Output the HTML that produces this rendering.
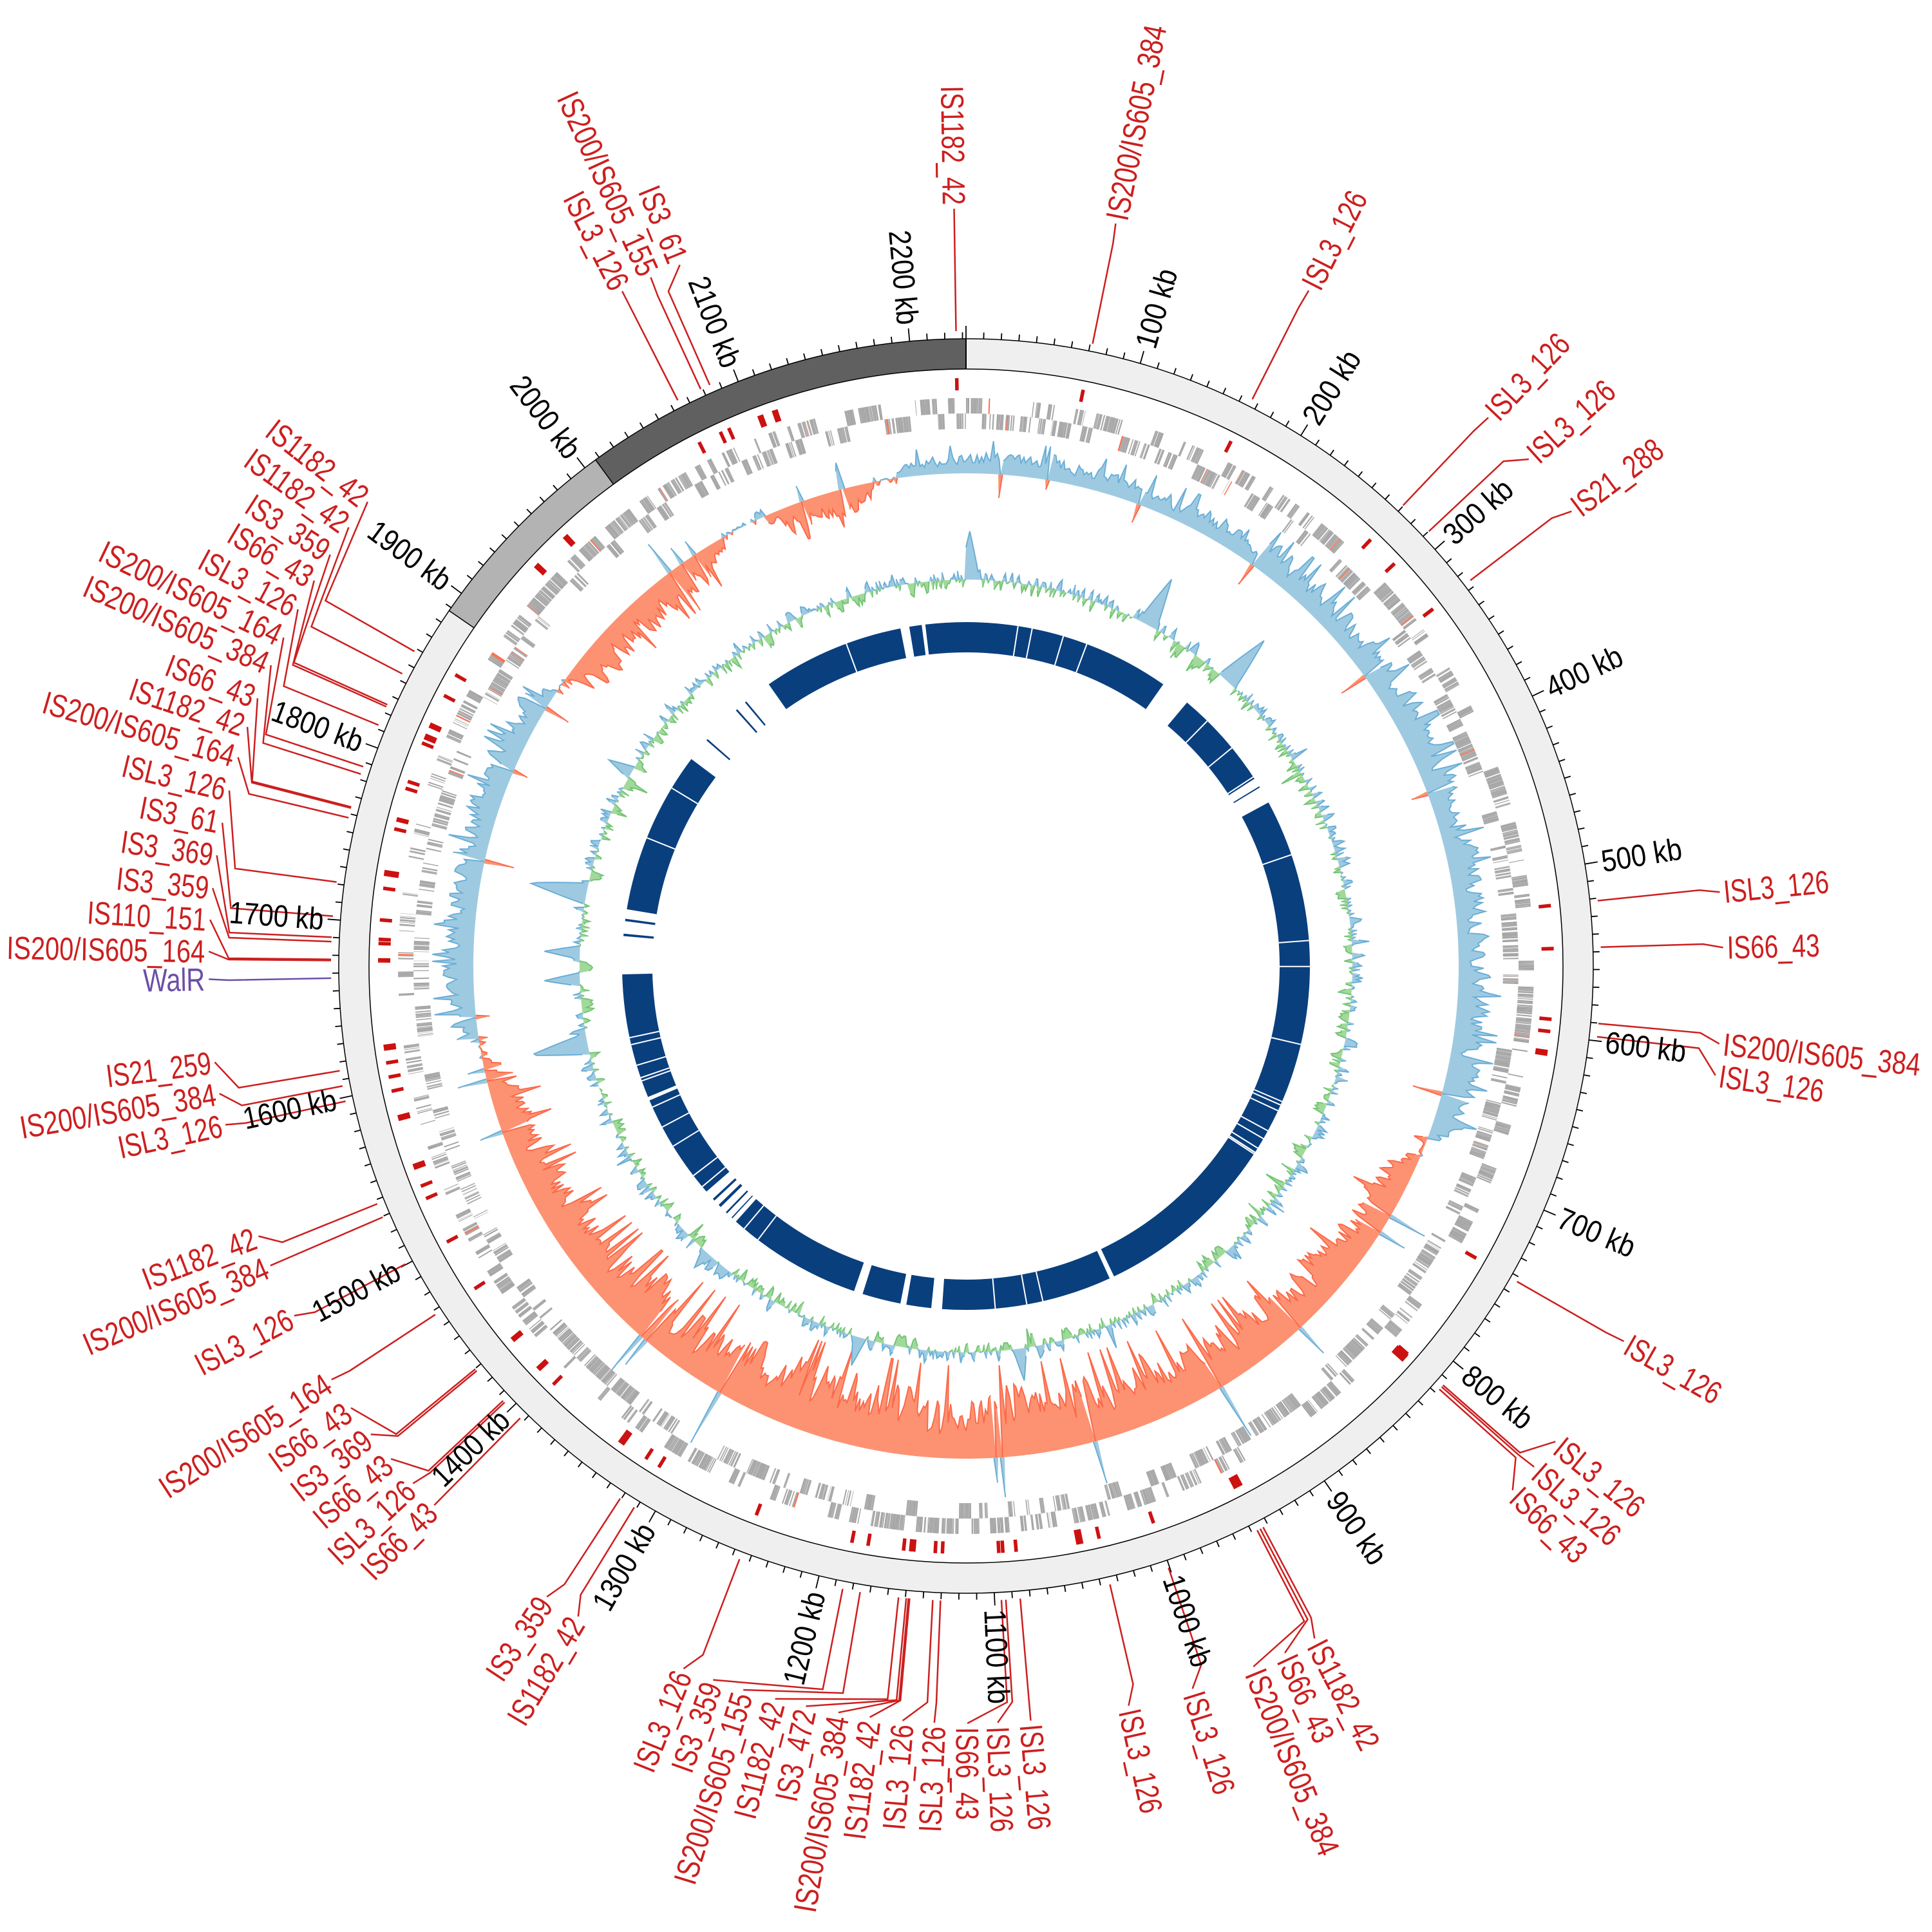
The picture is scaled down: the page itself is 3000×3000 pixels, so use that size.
<!DOCTYPE html>
<html><head><meta charset="utf-8">
<style>
html,body{margin:0;padding:0;background:#fff;}
svg{display:block;}
.t{font-family:"Liberation Sans Narrow","Liberation Sans",sans-serif;font-size:50px;fill:#cc1f1f;}
.k{font-family:"Liberation Sans Narrow","Liberation Sans",sans-serif;font-size:48px;fill:#000;}
.e{text-anchor:end;}
.w{fill:#6a4fa8;}
</style></head>
<body>
<svg id="s" width="3000" height="3000" viewBox="0 0 3000 3000" xmlns="http://www.w3.org/2000/svg">
<rect width="3000" height="3000" fill="#fff"/>
<g transform="translate(1500,1500)">
<g id="data"></g>
<g id="labels">
<text class="k" dy="0.35em" textLength="126" lengthAdjust="spacingAndGlyphs" transform="rotate(-73.87) translate(1000 0)">100 kb</text>
<text class="k" dy="0.35em" textLength="126" lengthAdjust="spacingAndGlyphs" transform="rotate(-57.74) translate(1000 0)">200 kb</text>
<text class="k" dy="0.35em" textLength="126" lengthAdjust="spacingAndGlyphs" transform="rotate(-41.61) translate(1000 0)">300 kb</text>
<text class="k" dy="0.35em" textLength="126" lengthAdjust="spacingAndGlyphs" transform="rotate(-25.48) translate(1000 0)">400 kb</text>
<text class="k" dy="0.35em" textLength="126" lengthAdjust="spacingAndGlyphs" transform="rotate(-9.35) translate(1000 0)">500 kb</text>
<text class="k" dy="0.35em" textLength="126" lengthAdjust="spacingAndGlyphs" transform="rotate(6.77) translate(1000 0)">600 kb</text>
<text class="k" dy="0.35em" textLength="126" lengthAdjust="spacingAndGlyphs" transform="rotate(22.90) translate(1000 0)">700 kb</text>
<text class="k" dy="0.35em" textLength="126" lengthAdjust="spacingAndGlyphs" transform="rotate(39.03) translate(1000 0)">800 kb</text>
<text class="k" dy="0.35em" textLength="126" lengthAdjust="spacingAndGlyphs" transform="rotate(55.16) translate(1000 0)">900 kb</text>
<text class="k" dy="0.35em" textLength="147" lengthAdjust="spacingAndGlyphs" transform="rotate(71.29) translate(1000 0)">1000 kb</text>
<text class="k" dy="0.35em" textLength="147" lengthAdjust="spacingAndGlyphs" transform="rotate(87.42) translate(1000 0)">1100 kb</text>
<text class="k e" dy="0.35em" textLength="147" lengthAdjust="spacingAndGlyphs" transform="rotate(283.55) translate(-1000 0)">1200 kb</text>
<text class="k e" dy="0.35em" textLength="147" lengthAdjust="spacingAndGlyphs" transform="rotate(299.68) translate(-1000 0)">1300 kb</text>
<text class="k e" dy="0.35em" textLength="147" lengthAdjust="spacingAndGlyphs" transform="rotate(315.81) translate(-1000 0)">1400 kb</text>
<text class="k e" dy="0.35em" textLength="147" lengthAdjust="spacingAndGlyphs" transform="rotate(331.94) translate(-1000 0)">1500 kb</text>
<text class="k e" dy="0.35em" textLength="147" lengthAdjust="spacingAndGlyphs" transform="rotate(348.06) translate(-1000 0)">1600 kb</text>
<text class="k e" dy="0.35em" textLength="147" lengthAdjust="spacingAndGlyphs" transform="rotate(364.19) translate(-1000 0)">1700 kb</text>
<text class="k e" dy="0.35em" textLength="147" lengthAdjust="spacingAndGlyphs" transform="rotate(380.32) translate(-1000 0)">1800 kb</text>
<text class="k e" dy="0.35em" textLength="147" lengthAdjust="spacingAndGlyphs" transform="rotate(396.45) translate(-1000 0)">1900 kb</text>
<text class="k e" dy="0.35em" textLength="147" lengthAdjust="spacingAndGlyphs" transform="rotate(412.58) translate(-1000 0)">2000 kb</text>
<text class="k e" dy="0.35em" textLength="147" lengthAdjust="spacingAndGlyphs" transform="rotate(428.71) translate(-1000 0)">2100 kb</text>
<text class="k e" dy="0.35em" textLength="147" lengthAdjust="spacingAndGlyphs" transform="rotate(444.84) translate(-1000 0)">2200 kb</text>

<text class="t" dy="0.35em" textLength="308" lengthAdjust="spacingAndGlyphs" transform="rotate(-78.6) translate(1182 0)">IS200/IS605_384</text>
<text class="t" dy="0.35em" textLength="164" lengthAdjust="spacingAndGlyphs" transform="rotate(-63.1) translate(1182 0)">ISL3_126</text>
<text class="t" dy="0.35em" textLength="164" lengthAdjust="spacingAndGlyphs" transform="rotate(-46.4) translate(1182 0)">ISL3_126</text>
<text class="t" dy="0.35em" textLength="164" lengthAdjust="spacingAndGlyphs" transform="rotate(-42.0) translate(1182 0)">ISL3_126</text>
<text class="t" dy="0.35em" textLength="164" lengthAdjust="spacingAndGlyphs" transform="rotate(-36.9) translate(1182 0)">IS21_288</text>
<text class="t" dy="0.35em" textLength="164" lengthAdjust="spacingAndGlyphs" transform="rotate(-5.6) translate(1182 0)">ISL3_126</text>
<text class="t" dy="0.35em" textLength="144" lengthAdjust="spacingAndGlyphs" transform="rotate(-1.4) translate(1182 0)">IS66_43</text>
<text class="t" dy="0.35em" textLength="308" lengthAdjust="spacingAndGlyphs" transform="rotate(5.9) translate(1182 0)">IS200/IS605_384</text>
<text class="t" dy="0.35em" textLength="164" lengthAdjust="spacingAndGlyphs" transform="rotate(8.3) translate(1182 0)">ISL3_126</text>
<text class="t" dy="0.35em" textLength="164" lengthAdjust="spacingAndGlyphs" transform="rotate(29.7) translate(1182 0)">ISL3_126</text>
<text class="t" dy="0.35em" textLength="164" lengthAdjust="spacingAndGlyphs" transform="rotate(38.9) translate(1182 0)">ISL3_126</text>
<text class="t" dy="0.35em" textLength="164" lengthAdjust="spacingAndGlyphs" transform="rotate(41.4) translate(1182 0)">ISL3_126</text>
<text class="t" dy="0.35em" textLength="144" lengthAdjust="spacingAndGlyphs" transform="rotate(43.8) translate(1182 0)">IS66_43</text>
<text class="t" dy="0.35em" textLength="185" lengthAdjust="spacingAndGlyphs" transform="rotate(62.6) translate(1182 0)">IS1182_42</text>
<text class="t" dy="0.35em" textLength="144" lengthAdjust="spacingAndGlyphs" transform="rotate(65.1) translate(1182 0)">IS66_43</text>
<text class="t" dy="0.35em" textLength="308" lengthAdjust="spacingAndGlyphs" transform="rotate(67.7) translate(1182 0)">IS200/IS605_384</text>
<text class="t" dy="0.35em" textLength="164" lengthAdjust="spacingAndGlyphs" transform="rotate(72.6) translate(1182 0)">ISL3_126</text>
<text class="t" dy="0.35em" textLength="164" lengthAdjust="spacingAndGlyphs" transform="rotate(77.6) translate(1182 0)">ISL3_126</text>
<text class="t" dy="0.35em" textLength="164" lengthAdjust="spacingAndGlyphs" transform="rotate(85.1) translate(1182 0)">ISL3_126</text>
<text class="t" dy="0.35em" textLength="164" lengthAdjust="spacingAndGlyphs" transform="rotate(87.6) translate(1182 0)">ISL3_126</text>
<text class="t" dy="0.35em" textLength="144" lengthAdjust="spacingAndGlyphs" transform="rotate(89.9) translate(1182 0)">IS66_43</text>

<text class="t e" dy="0.35em" textLength="185" lengthAdjust="spacingAndGlyphs" transform="rotate(449.1) translate(-1182 0)">IS1182_42</text>
<text class="t e" dy="0.35em" textLength="164" lengthAdjust="spacingAndGlyphs" transform="rotate(272.4) translate(-1182 0)">ISL3_126</text>
<text class="t e" dy="0.35em" textLength="164" lengthAdjust="spacingAndGlyphs" transform="rotate(274.8) translate(-1182 0)">ISL3_126</text>
<text class="t e" dy="0.35em" textLength="185" lengthAdjust="spacingAndGlyphs" transform="rotate(277.3) translate(-1182 0)">IS1182_42</text>
<text class="t e" dy="0.35em" textLength="308" lengthAdjust="spacingAndGlyphs" transform="rotate(279.7) translate(-1182 0)">IS200/IS605_384</text>
<text class="t e" dy="0.35em" textLength="144" lengthAdjust="spacingAndGlyphs" transform="rotate(282.2) translate(-1182 0)">IS3_472</text>
<text class="t e" dy="0.35em" textLength="185" lengthAdjust="spacingAndGlyphs" transform="rotate(284.6) translate(-1182 0)">IS1182_42</text>
<text class="t e" dy="0.35em" textLength="308" lengthAdjust="spacingAndGlyphs" transform="rotate(287.1) translate(-1182 0)">IS200/IS605_155</text>
<text class="t e" dy="0.35em" textLength="144" lengthAdjust="spacingAndGlyphs" transform="rotate(289.5) translate(-1182 0)">IS3_359</text>
<text class="t e" dy="0.35em" textLength="164" lengthAdjust="spacingAndGlyphs" transform="rotate(291.9) translate(-1182 0)">ISL3_126</text>
<text class="t e" dy="0.35em" textLength="185" lengthAdjust="spacingAndGlyphs" transform="rotate(300.8) translate(-1182 0)">IS1182_42</text>
<text class="t e" dy="0.35em" textLength="144" lengthAdjust="spacingAndGlyphs" transform="rotate(303.6) translate(-1182 0)">IS3_359</text>
<text class="t e" dy="0.35em" textLength="144" lengthAdjust="spacingAndGlyphs" transform="rotate(314.6) translate(-1182 0)">IS66_43</text>
<text class="t e" dy="0.35em" textLength="164" lengthAdjust="spacingAndGlyphs" transform="rotate(316.9) translate(-1182 0)">ISL3_126</text>
<text class="t e" dy="0.35em" textLength="144" lengthAdjust="spacingAndGlyphs" transform="rotate(319.4) translate(-1182 0)">IS66_43</text>
<text class="t e" dy="0.35em" textLength="144" lengthAdjust="spacingAndGlyphs" transform="rotate(321.8) translate(-1182 0)">IS3_369</text>
<text class="t e" dy="0.35em" textLength="144" lengthAdjust="spacingAndGlyphs" transform="rotate(324.3) translate(-1182 0)">IS66_43</text>
<text class="t e" dy="0.35em" textLength="308" lengthAdjust="spacingAndGlyphs" transform="rotate(326.9) translate(-1182 0)">IS200/IS605_164</text>
<text class="t e" dy="0.35em" textLength="164" lengthAdjust="spacingAndGlyphs" transform="rotate(332.5) translate(-1182 0)">ISL3_126</text>
<text class="t e" dy="0.35em" textLength="308" lengthAdjust="spacingAndGlyphs" transform="rotate(336.7) translate(-1182 0)">IS200/IS605_384</text>
<text class="t e" dy="0.35em" textLength="185" lengthAdjust="spacingAndGlyphs" transform="rotate(339.1) translate(-1182 0)">IS1182_42</text>
<text class="t e" dy="0.35em" textLength="164" lengthAdjust="spacingAndGlyphs" transform="rotate(347.9) translate(-1182 0)">ISL3_126</text>
<text class="t e" dy="0.35em" textLength="308" lengthAdjust="spacingAndGlyphs" transform="rotate(350.3) translate(-1182 0)">IS200/IS605_384</text>
<text class="t e" dy="0.35em" textLength="164" lengthAdjust="spacingAndGlyphs" transform="rotate(352.7) translate(-1182 0)">IS21_259</text>
<text class="t e w" dy="0.35em" textLength="96" lengthAdjust="spacingAndGlyphs" transform="rotate(359.0) translate(-1182 0)">WalR</text>
<text class="t e" dy="0.35em" textLength="308" lengthAdjust="spacingAndGlyphs" transform="rotate(361.1) translate(-1182 0)">IS200/IS605_164</text>
<text class="t e" dy="0.35em" textLength="185" lengthAdjust="spacingAndGlyphs" transform="rotate(363.5) translate(-1182 0)">IS110_151</text>
<text class="t e" dy="0.35em" textLength="144" lengthAdjust="spacingAndGlyphs" transform="rotate(365.9) translate(-1182 0)">IS3_359</text>
<text class="t e" dy="0.35em" textLength="144" lengthAdjust="spacingAndGlyphs" transform="rotate(368.4) translate(-1182 0)">IS3_369</text>
<text class="t e" dy="0.35em" textLength="124" lengthAdjust="spacingAndGlyphs" transform="rotate(370.9) translate(-1182 0)">IS3_61</text>
<text class="t e" dy="0.35em" textLength="164" lengthAdjust="spacingAndGlyphs" transform="rotate(373.4) translate(-1182 0)">ISL3_126</text>
<text class="t e" dy="0.35em" textLength="308" lengthAdjust="spacingAndGlyphs" transform="rotate(376.0) translate(-1182 0)">IS200/IS605_164</text>
<text class="t e" dy="0.35em" textLength="185" lengthAdjust="spacingAndGlyphs" transform="rotate(378.4) translate(-1182 0)">IS1182_42</text>
<text class="t e" dy="0.35em" textLength="144" lengthAdjust="spacingAndGlyphs" transform="rotate(380.7) translate(-1182 0)">IS66_43</text>
<text class="t e" dy="0.35em" textLength="308" lengthAdjust="spacingAndGlyphs" transform="rotate(383.4) translate(-1182 0)">IS200/IS605_384</text>
<text class="t e" dy="0.35em" textLength="308" lengthAdjust="spacingAndGlyphs" transform="rotate(385.7) translate(-1182 0)">IS200/IS605_164</text>
<text class="t e" dy="0.35em" textLength="164" lengthAdjust="spacingAndGlyphs" transform="rotate(388.1) translate(-1182 0)">ISL3_126</text>
<text class="t e" dy="0.35em" textLength="144" lengthAdjust="spacingAndGlyphs" transform="rotate(390.6) translate(-1182 0)">IS66_43</text>
<text class="t e" dy="0.35em" textLength="144" lengthAdjust="spacingAndGlyphs" transform="rotate(392.9) translate(-1182 0)">IS3_359</text>
<text class="t e" dy="0.35em" textLength="185" lengthAdjust="spacingAndGlyphs" transform="rotate(395.4) translate(-1182 0)">IS1182_42</text>
<text class="t e" dy="0.35em" textLength="185" lengthAdjust="spacingAndGlyphs" transform="rotate(397.8) translate(-1182 0)">IS1182_42</text>
<text class="t e" dy="0.35em" textLength="164" lengthAdjust="spacingAndGlyphs" transform="rotate(423.0) translate(-1182 0)">ISL3_126</text>
<text class="t e" dy="0.35em" textLength="308" lengthAdjust="spacingAndGlyphs" transform="rotate(425.4) translate(-1182 0)">IS200/IS605_155</text>
<text class="t e" dy="0.35em" textLength="124" lengthAdjust="spacingAndGlyphs" transform="rotate(427.8) translate(-1182 0)">IS3_61</text>
</g>
</g>
</svg>
<script>
(function(){
var NS="http://www.w3.org/2000/svg";
var G=document.getElementById("data");
function el(tag,attrs){var e=document.createElementNS(NS,tag);for(var k in attrs)e.setAttribute(k,attrs[k]);G.appendChild(e);return e;}
var seed=12345;function rnd(){seed|=0;seed=seed+0x6D2B79F5|0;var t=Math.imul(seed^seed>>>15,1|seed);t=t+Math.imul(t^t>>>7,61|t)^t;return((t^t>>>14)>>>0)/4294967296;}
function P(r,a){var t=a*Math.PI/180;return [(r*Math.sin(t)).toFixed(1),(-r*Math.cos(t)).toFixed(1)];}
function sec(r0,r1,a,b){var l=(b-a)>180?1:0;var p1=P(r1,a),p2=P(r1,b),p3=P(r0,b),p4=P(r0,a);
return "M"+p1+"A"+r1+" "+r1+" 0 "+l+" 1 "+p2+"L"+p3+"A"+r0+" "+r0+" 0 "+l+" 0 "+p4+"Z";}
var K=360/2232;
el("circle",{r:950.5,fill:"none",stroke:"#efefef","stroke-width":47});
el("path",{d:sec(927,974,304.5,323.8),fill:"#b3b3b3"});
el("path",{d:sec(927,974,323.8,359.99),fill:"#606060"});
el("circle",{r:927,fill:"none",stroke:"#000","stroke-width":1.5});
el("circle",{r:974,fill:"none",stroke:"#000","stroke-width":1.5});
var lp=P(927,0),lq=P(974,0);el("path",{d:"M"+lp+"L"+lq,stroke:"#000","stroke-width":2});
lp=P(927,323.8);lq=P(974,323.8);el("path",{d:"M"+lp+"L"+lq,stroke:"#000","stroke-width":1.5});
lp=P(927,304.5);lq=P(974,304.5);el("path",{d:"M"+lp+"L"+lq,stroke:"#000","stroke-width":1.5});
var d="";for(var kb=0;kb<2232;kb+=10){var a=kb*K;var L=(kb%100==0)?20:10;d+="M"+P(974,a)+"L"+P(974+L,a);}
el("path",{d:d,stroke:"#000","stroke-width":1.8,fill:"none"});
var LL=[[11.5,11.4],[26.8,26.9],[43.5,43.6],[46.8,48.0],[52.6,53.1],[84.1,84.4],[88.3,88.6],[95.2,95.9],[96.4,98.3],[119.8,119.7],[131.3,128.9],[131.5,131.4],[131.8,133.8],[152.1,152.6],[152.4,155.1],[152.7,157.7],[161.4,162.6],[166.9,167.6],[175.1,175.1],[176.4,177.6],[176.8,179.9],
[359.1,359.1],[182.3,182.4],[183.0,184.8],[185.1,187.3],[185.2,189.7],[185.4,192.2],[186.1,194.6],[189.6,197.1],[191.2,199.5],[200.9,201.9],[211.5,210.8],[213.0,213.6],[224.6,224.6],[226.6,226.9],[226.8,229.4],[230.4,231.8],[230.6,234.3],[236.7,236.9],[242.0,242.5],[246.7,246.7],[248.0,249.1],[257.7,257.9],[259.1,260.3],[260.5,262.7],[270.5,271.1],[270.6,273.5],[272.2,275.9],[272.6,278.4],[274.5,280.9],[277.6,283.4],[283.5,286.0],[284.4,288.4],[284.5,290.7],[287.6,293.4],[288.3,295.7],[292.3,298.1],[294.1,300.6],[294.3,302.9],[297.4,305.4],[299.7,307.8],[333.0,333.0],[335.3,335.4],[336.2,337.8]];
d="";var marks="";
LL.forEach(function(x){d+="M"+P(986,x[0])+"L"+P(1145,x[0])+"L"+P(1176,x[1]);
 var w=0.35;marks+=sec(894,913,x[0]-w/2,x[0]+w/2);});
el("path",{d:d,stroke:"#cc1f1f","stroke-width":2.5,fill:"none"});
el("path",{d:"M"+P(986,268.9)+"L"+P(1145,268.9)+"L"+P(1176,269.0),stroke:"#6a4fa8","stroke-width":2.5,fill:"none"});
[131.7,98.5,339.5,341,317,313,293,262,255,250].forEach(function(a){marks+=sec(894,913,a-0.3,a+0.3);});
marks+=sec(892,915,131.3,132.2)+sec(892,915,168.5,169.2)+sec(892,915,215.5,216.2)+sec(892,915,278.8,279.4);
el("path",{d:marks,fill:"#cc1111"});
// gene lanes: alternating checker pattern
var a=0,g1="",g2="",gr="";
while(a<360){var len=0.15+rnd()*1.1;var top=rnd()<0.5;var dens=(a>240&&a<300)?0.55:0.85;
 var b=a;while(b<a+len&&b<360){var gl=0.03+rnd()*0.12;if(rnd()<dens){var s=sec(top?858:834,top?882:858,b,Math.min(b+gl,360));if(rnd()<0.01)gr+=s;else if(top)g1+=s;else g2+=s;}b+=gl+0.01;}
 a=b+(rnd()<0.8?0.02:0.2+rnd()*0.5);}
el("path",{d:g1,fill:"#a3a3a3"});el("path",{d:g2,fill:"#a3a3a3"});el("path",{d:gr,fill:"#fb6a4a"});
// skew track
var N=1440,B=765;
function skA0(t){t=(t+360)%360;if(t>=350)return 35;if(t<30)return 45;if(t<112)return 58;
 if(t<260)return -(60+65*Math.sin((t-112)/148*Math.PI));if(t<305)return 55;if(t<330)return -65;if(t<335)return 25;return -50;}
function skA(t){var s=0;for(var k=-4;k<=4;k++)s+=skA0(t+k*0.8);return s/9;}
var v=[],u=0.5;
for(var i=0;i<N;i++){var t=i*360/N;u=0.4*u+0.6*rnd();var q=u;if(rnd()<0.07)q=1.2;var A=skA(t);var val=A*(0.2+0.8*q);
 if(Math.abs(A)<20&&rnd()<0.5)val=-val;
 if(rnd()<0.025)val=-A*(0.3+0.6*rnd());v.push(val);}
function area(vals,base,sign,fill,stroke,scale){var pts=[],st="",on=false;
 for(var i=0;i<=vals.length;i++){var j=i%vals.length,t=i*360/vals.length;var x=vals[j]*sign;var r=base+sign*Math.max(x,0)*scale;pts.push(P(r,t));
  if(x>0.5){st+=(on?"L":"M")+P(r,t);on=true;}else{if(on)st+="L"+P(base,t);on=false;}}
 var dd="M"+pts.join("L");for(var i=vals.length;i>=0;i--){dd+="L"+P(base,i*360/vals.length);}dd+="Z";
 el("path",{d:dd,fill:fill,"fill-rule":"nonzero"});el("path",{d:st,fill:"none",stroke:stroke,"stroke-width":2});}
area(v,B,1,"#9ecae1","#6baed6",1);
area(v,B,-1,"#fc9272","#fb6a4a",1);
var g=[],w=0;var spikes=[[0.5,75,1.5],[28,80,1.5],[42.5,85,1.6],[258.4,90,1.6],[280.8,90,1.6],[268,55,1],[272,55,1],[196,45,1],[172,50,1],[300,40,1],[222,30,1]];
for(var i=0;i<N;i++){var t=i*360/N;w=0.3*w+0.7*(rnd()-0.5);var val=w*45;if(rnd()<0.05)val*=1.8;
 spikes.forEach(function(s){var dd=Math.abs(t-s[0]);if(dd<s[2])val=Math.max(val,s[1]*(1-dd/s[2]));});g.push(val);}
area(g,600,1,"#9ecae1","#6baed6",1);
area(g,600,-1,"#a1d99b","#74c476",1);
var segs=[[325,349],[350.5,352.6],[353.2,395],[40,57],[61.6,154.5],[155.3,184],[185.8,190],[191,197.5],[199,222],[229,247],[247.5,268.6],[279.5,307]];
d="";segs.forEach(function(s){d+=sec(487,534,s[0],s[1]);});
[[222.8,223],[224,224.3],[225.5,226],[227,227.4],[275,275.4],[277.5,277.9],[311,311.3],[318,318.3],[320,320.3],[58.5,58.8]].forEach(function(s){d+=sec(487,534,s[0],s[1]);});
el("path",{d:d,fill:"#0a3f7e"});
d="";for(var i=0;i<45;i++){var a=rnd()*360;d+="M"+P(487,a)+"L"+P(534,a);}
el("path",{d:d,stroke:"#fff","stroke-width":2});
})();
</script>
</body></html>
